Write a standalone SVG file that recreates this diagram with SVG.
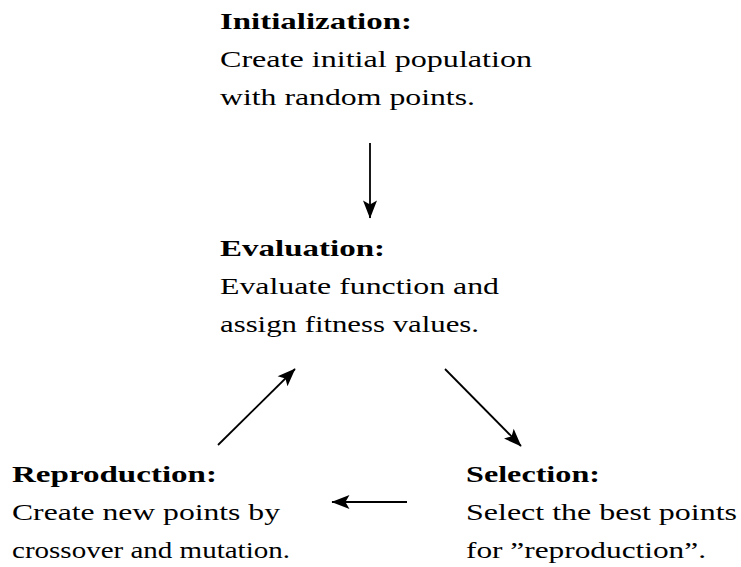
<svg xmlns="http://www.w3.org/2000/svg" width="741" height="567" viewBox="0 0 741 567">
<style>
text{font-family:"Liberation Serif","Times New Roman",serif;font-size:24px;fill:#000}
.h{font-weight:bold}
.c line{stroke:#000;stroke-width:1.8;fill:none}
</style>
<defs>
<marker id="ah" markerUnits="userSpaceOnUse" markerWidth="20" markerHeight="14" refX="15" refY="6" orient="auto" viewBox="0 0 16 12">
<path d="M0,0 L15.5,6 L0,12 L3.5,6 Z" fill="#000"/>
</marker>
</defs>
<rect width="741" height="567" fill="#fff"/>
<g id="initialization">
<text class="h" x="220" y="29" textLength="192" lengthAdjust="spacingAndGlyphs">Initialization:</text>
<text x="220" y="67" textLength="312" lengthAdjust="spacingAndGlyphs">Create initial population</text>
<text x="220" y="105" textLength="255" lengthAdjust="spacingAndGlyphs">with random points.</text>
</g>
<g id="evaluation">
<text class="h" x="220" y="256" textLength="165" lengthAdjust="spacingAndGlyphs">Evaluation:</text>
<text x="220" y="294" textLength="279" lengthAdjust="spacingAndGlyphs">Evaluate function and</text>
<text x="220" y="332" textLength="259" lengthAdjust="spacingAndGlyphs">assign fitness values.</text>
</g>
<g id="reproduction">
<text class="h" x="12" y="482" textLength="205" lengthAdjust="spacingAndGlyphs">Reproduction:</text>
<text x="12" y="520" textLength="268" lengthAdjust="spacingAndGlyphs">Create new points by</text>
<text x="12" y="558" textLength="278" lengthAdjust="spacingAndGlyphs">crossover and mutation.</text>
</g>
<g id="selection">
<text class="h" x="466" y="482" textLength="134" lengthAdjust="spacingAndGlyphs">Selection:</text>
<text x="466" y="520" textLength="271" lengthAdjust="spacingAndGlyphs">Select the best points</text>
<text x="466" y="558" textLength="240" lengthAdjust="spacingAndGlyphs">for ”reproduction”.</text>
</g>
<g id="connectors" class="c">
<line x1="370" y1="143" x2="370" y2="218" marker-end="url(#ah)"/>
<line x1="445" y1="369" x2="521" y2="446" marker-end="url(#ah)"/>
<line x1="407" y1="502" x2="332" y2="502" marker-end="url(#ah)"/>
<line x1="218" y1="445" x2="295" y2="369" marker-end="url(#ah)"/>
</g>
</svg>
